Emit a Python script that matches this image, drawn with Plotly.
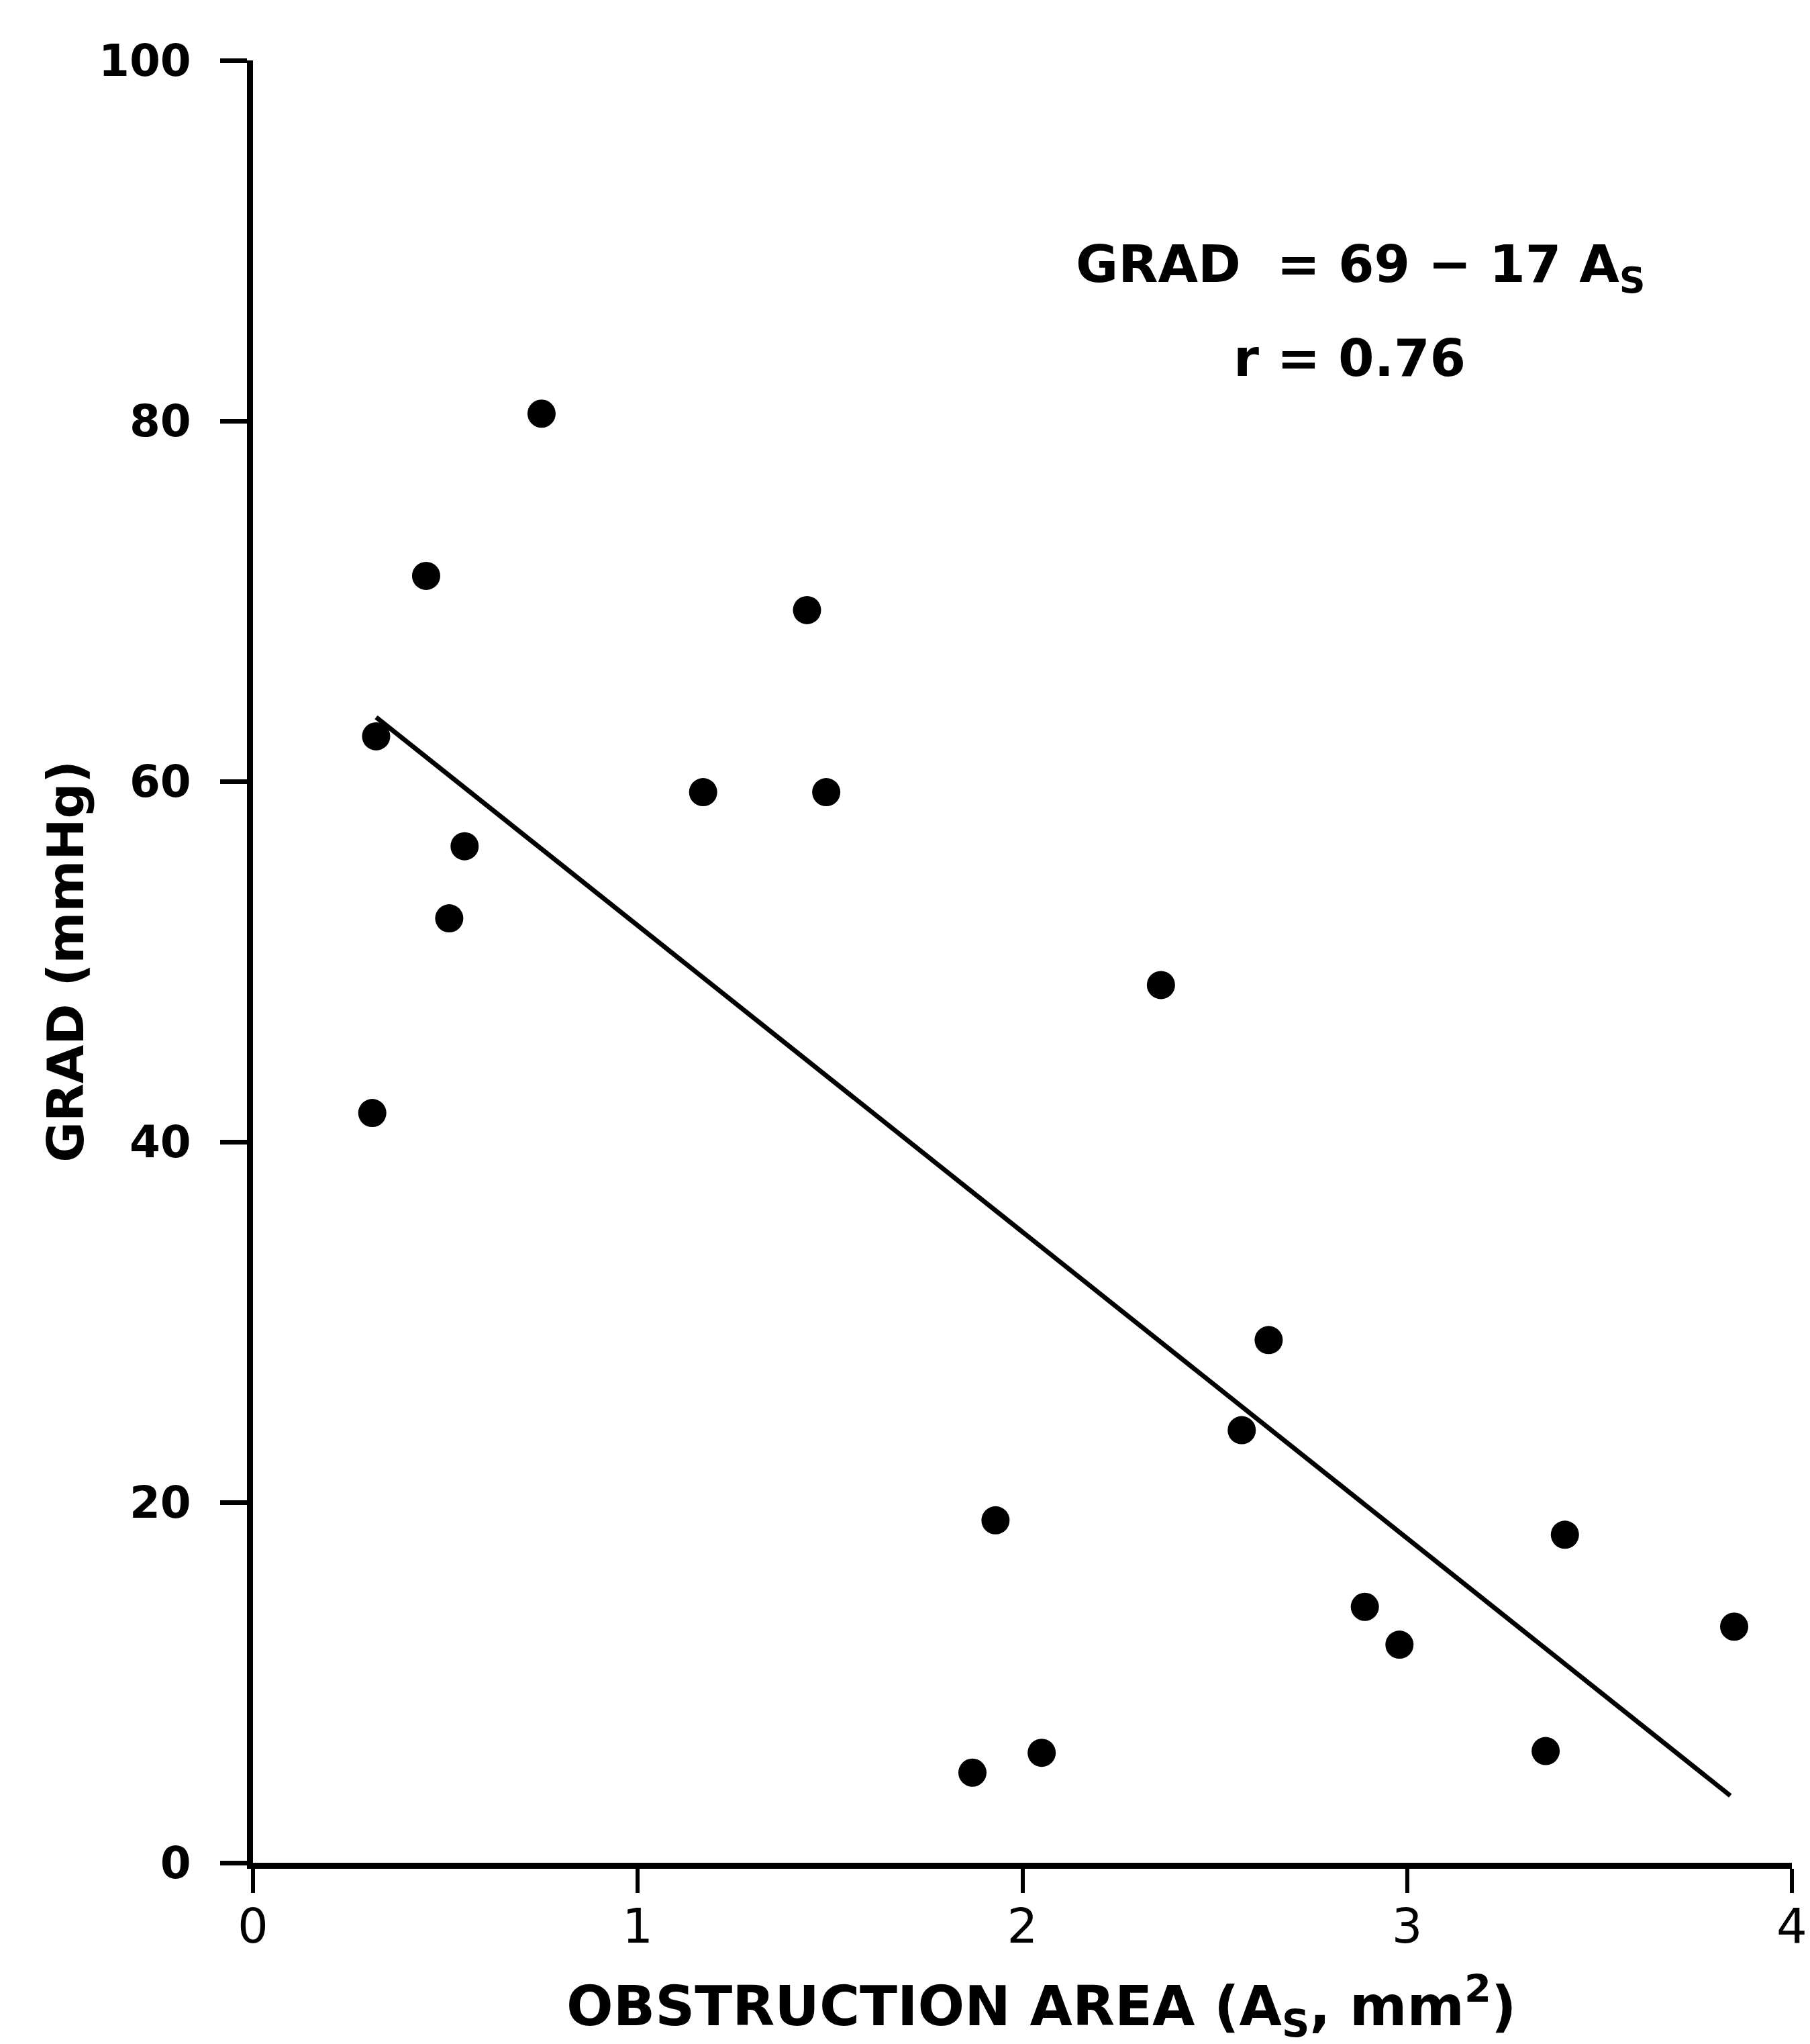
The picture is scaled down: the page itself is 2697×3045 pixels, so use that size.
import plotly.graph_objects as go

area = [0.75, 0.45, 1.44, 0.32, 1.17, 1.49, 0.55, 0.51, 2.36, 0.31,
        2.64, 2.57, 1.93, 3.41, 2.89, 2.98, 3.85, 2.05, 1.87, 3.36]
grad = [80.4, 71.4, 69.5, 62.5, 59.4, 59.4, 56.4, 52.4, 48.7, 41.6,
        29.0, 24.0, 19.0, 18.2, 14.2, 12.1, 13.1, 6.1, 5.0, 6.2]

intercept = 69
slope = -17
fit_x = [0.32, 3.84]
fit_y = [intercept + slope * v for v in fit_x]

x_ticks = [0, 1, 2, 3, 4]
y_ticks = [0, 20, 40, 60, 80, 100]

W, H = 2697, 3045
L, R, T, B = 369, 35, 82, 278

TXT = "DejaVu Sans"

fig = go.Figure()
fig.add_trace(go.Scatter(x=fit_x, y=fit_y, mode="lines",
                         line=dict(color="black", width=7), hoverinfo="skip"))
fig.add_trace(go.Scatter(x=area, y=grad, mode="markers",
                         marker=dict(color="black", size=42, line=dict(width=0))))

fig.update_layout(
    width=W, height=H,
    margin=dict(l=L, r=R, t=T, b=B),
    paper_bgcolor="white", plot_bgcolor="white",
    showlegend=False,
    xaxis=dict(range=[0, 4], tickvals=x_ticks, ticktext=[str(v) for v in x_ticks],
               showgrid=False, zeroline=False, showline=True, linecolor="black", linewidth=9,
               ticks="outside", ticklen=36, tickwidth=6, tickcolor="black",
               ticklabelstandoff=-12,
               tickfont=dict(family=TXT, size=72, color="black")),
    yaxis=dict(range=[0, 100], tickvals=y_ticks, ticktext=[str(v) for v in y_ticks],
               showgrid=False, zeroline=False, showline=True, linecolor="black", linewidth=9,
               ticks="outside", ticklen=40, tickwidth=7, tickcolor="black",
               ticklabelstandoff=30,
               tickfont=dict(family=TXT, size=66, color="black", weight="bold")),
    annotations=[
        dict(text="GRAD  = 69 − 17 A<sub>S</sub>", x=2.88, y=88.5, xref="x", yref="y",
             xanchor="center", yanchor="middle",
             showarrow=False, font=dict(family=TXT, size=77, color="black", weight="bold")),
        dict(text="r = 0.76", x=2.85, y=83.5, xref="x", yref="y",
             xanchor="center", yanchor="middle",
             showarrow=False, font=dict(family=TXT, size=77, color="black", weight="bold")),
        dict(text="OBSTRUCTION AREA (A<sub>S</sub>, mm<sup>2</sup>)", x=0.512, y=-0.080,
             xref="paper", yref="paper", xanchor="center", yanchor="middle", showarrow=False,
             font=dict(family=TXT, size=82, color="black", weight="bold")),
        dict(text="GRAD (mmHg)", x=-0.122, y=0.5, xref="paper", yref="paper",
             xanchor="center", yanchor="middle",
             textangle=-90, showarrow=False,
             font=dict(family=TXT, size=74, color="black", weight="bold")),
    ],
)

fig.write_html("out.html")
